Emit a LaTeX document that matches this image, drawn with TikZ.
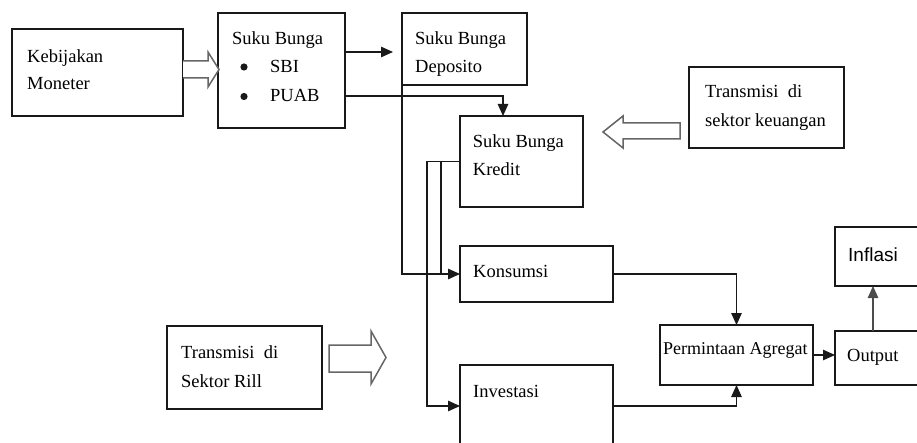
\documentclass[tikz,border=0pt]{standalone}
\usepackage{fontspec}
\setmainfont{Liberation Serif}
\newfontfamily\labelsans{Liberation Sans}
\usetikzlibrary{arrows.meta}
% box given by its corners (x0,y0) and (x1,y1), y growing downwards
\newcommand\placebox[5]{\node[boxst, minimum width={(#4-#2)*1pt}, minimum height={(#5-#3)*1pt}] (#1) at (#2,#3) {};}
\begin{document}
\begin{tikzpicture}[x=1pt,y=-1pt,
  boxst/.style={draw=black!90, line width=1.3pt, inner sep=0pt, outer sep=0pt, anchor=north west},
  txt/.style={anchor=base west, inner sep=0pt, font=\fontsize{18.5}{22}\selectfont},
  link/.style={draw=black!90, line width=1.2pt},
  arr/.style={link, -{Triangle[length=12pt,width=10.5pt]}},
  hollow/.style={draw=black!60, line width=1.5pt, line join=miter, fill=white}]
\useasboundingbox (0,0) rectangle (917,443);
\clip (0,0) rectangle (917,443);

% boxes
\placebox{keb}{12}{29}{183}{116}
\placebox{sb}{218}{13}{345}{128}
\placebox{dep}{402}{13}{527}{85}
\placebox{kred}{460}{116}{583}{207}
\placebox{tk}{689}{67}{844}{148}
\placebox{kons}{460}{246}{613}{302}
\placebox{inv}{460}{365}{613}{447}
\placebox{tr}{167}{326}{322}{409}
\placebox{pa}{660}{325}{813}{385}
\placebox{out}{835}{331}{930}{385}
\placebox{infl}{835}{227}{930}{286}

% labels
\node[txt] (kebA) at (27,63) {Kebijakan};
\node[txt] (kebB) at (27,90) {Moneter};
\node[txt] (sbA) at (232,45) {Suku Bunga};
\fill[black!90] (244,67) circle (3.6pt);
\fill[black!90] (244,96.5) circle (3.6pt);
\node[txt] (sbB) at (270,73) {SBI};
\node[txt] (sbC) at (270,102) {PUAB};
\node[txt] (depA) at (415,45) {Suku Bunga};
\node[txt] (depB) at (415,72.7) {Deposito};
\node[txt] (kredA) at (472.7,148) {Suku Bunga};
\node[txt] (kredB) at (472.7,175.7) {Kredit};
\node[txt] (tkA) at (705,98) {Transmisi\ \ di};
\node[txt] (tkB) at (705,127) {sektor keuangan};
\node[txt] (konsA) at (473,278) {Konsumsi};
\node[txt] (invA) at (473,397.7) {Investasi};
\node[txt] (trA) at (181,358) {Transmisi\ \ di};
\node[txt] (trB) at (181,387) {Sektor Rill};
\node[txt, font=\fontsize{18}{20}\selectfont] (paA) at (663,354.3) {Permintaan Agregat};
\node[txt] (outA) at (847,361) {Output};
\node[txt, font=\labelsans\fontsize{19}{22}\selectfont] (inflA) at (848,261.7) {Inflasi};

% block arrows
\draw[hollow] (keb.east |- 0,61) -- (208,61) -- (208,52) -- (219,69.5) -- (208,87) -- (208,78) -- (keb.east |- 0,78);
\draw[hollow] (680,123) -- (623,123) -- (623,116) -- (603,132) -- (623,148) -- (623,139) -- (680,139) -- cycle;
\draw[hollow] (329,345) -- (371,345) -- (371,331) -- (386,357.5) -- (371,384) -- (371,372) -- (329,372) -- cycle;

% connectors
\draw[arr, shorten >=9pt] (sb.east |- 0,52) -- (dep.west |- 0,52);
\draw[arr] (sb.east |- 0,96) -| (kred.north -| 503,0);
\draw[arr] (dep.south west) |- (kons.west);
\draw[arr] (kred.west) -| (427,0 |- inv.west) -- (inv.west);
\draw[link] (441,0 |- kred.west) -- (441,0 |- kons.west);
\draw[arr] (kons.east) -| (pa.north);
\draw[arr] (inv.east) -| (pa.south);
\draw[arr] (pa.east) -- (out.west |- pa.east);
\draw[arr, draw=black!70] (873,0 |- out.north) -- (873,0 |- infl.south);
\end{tikzpicture}
\end{document}
